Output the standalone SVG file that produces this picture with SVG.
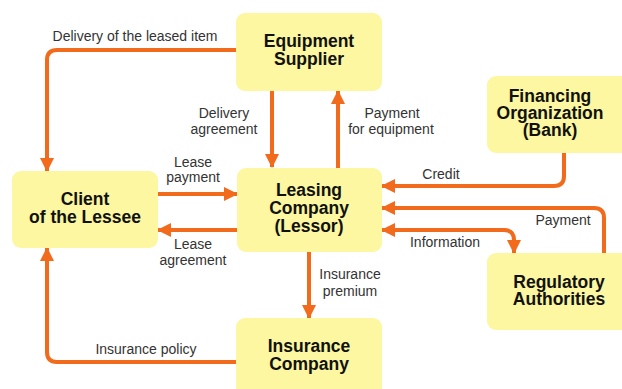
<svg xmlns="http://www.w3.org/2000/svg" width="622" height="389" viewBox="0 0 622 389">
<style>
.box{fill:#fcf7a0;}
.t{font-family:"Liberation Sans",Arial,sans-serif;font-weight:bold;font-size:17.5px;fill:#111;text-anchor:middle;}
.l{font-family:"Liberation Sans",Arial,sans-serif;font-size:14px;fill:#333;text-anchor:middle;}
.c{fill:none;stroke:#f26a1b;stroke-width:4;marker-end:url(#ah);}
</style>
<defs>
<marker id="ah" viewBox="0 0 14 14" refX="13" refY="7" markerWidth="14" markerHeight="14" markerUnits="userSpaceOnUse" orient="auto-start-reverse">
<path d="M0,0 L14,7 L0,14 Z" fill="#f26a1b"/>
</marker>
</defs>
<rect width="622" height="389" fill="#fff"/>
<g id="connectors">
<path class="c" d="M236,50 H57 Q47,50 47,60 V171"/>
<path class="c" d="M272,91 V167"/>
<path class="c" d="M338,168 V91"/>
<path class="c" d="M564,153 V176 Q564,186 554,186 H382"/>
<path class="c" d="M158,194 H237"/>
<path class="c" d="M237,230 H158"/>
<path class="c" d="M604,253 V218 Q604,208 594,208 H382"/>
<path class="c" d="M382,230 H504 Q514,230 514,240 V253" marker-start="url(#ah)"/>
<path class="c" d="M309,252 V318"/>
<path class="c" d="M236,362 H57 Q47,362 47,352 V248"/>
<text class="l" x="135" y="41">Delivery of the leased item</text>
<text class="l" x="224" y="118">Delivery</text>
<text class="l" x="224" y="134">agreement</text>
<text class="l" x="392" y="118">Payment</text>
<text class="l" x="391" y="134">for equipment</text>
<text class="l" x="441" y="179">Credit</text>
<text class="l" x="193" y="167">Lease</text>
<text class="l" x="193" y="182">payment</text>
<text class="l" x="193" y="249">Lease</text>
<text class="l" x="193" y="265">agreement</text>
<text class="l" x="563" y="225">Payment</text>
<text class="l" x="445" y="247">Information</text>
<text class="l" x="350" y="279">Insurance</text>
<text class="l" x="350" y="296">premium</text>
<text class="l" x="146" y="354">Insurance policy</text>
</g>
<g id="equipment-supplier">
<rect class="box" x="236" y="13" width="146" height="78" rx="9"/>
<text class="t" x="309" y="47">Equipment</text>
<text class="t" x="309" y="65">Supplier</text>
</g>
<g id="financing-organization">
<rect class="box" x="487" y="76" width="145" height="77" rx="9"/>
<text class="t" x="550" y="102">Financing</text>
<text class="t" x="550" y="119">Organization</text>
<text class="t" x="550" y="136">(Bank)</text>
</g>
<g id="client">
<rect class="box" x="12" y="171" width="146" height="77" rx="9"/>
<text class="t" x="85" y="205">Client</text>
<text class="t" x="85" y="223">of the Lessee</text>
</g>
<g id="leasing-company">
<rect class="box" x="237" y="168" width="145" height="84" rx="9"/>
<text class="t" x="309" y="196">Leasing</text>
<text class="t" x="309" y="214">Company</text>
<text class="t" x="309" y="232">(Lessor)</text>
</g>
<g id="insurance-company">
<rect class="box" x="236" y="318" width="146" height="85" rx="9"/>
<text class="t" x="309" y="352">Insurance</text>
<text class="t" x="309" y="370">Company</text>
</g>
<g id="regulatory-authorities">
<rect class="box" x="487" y="253" width="145" height="77" rx="9"/>
<text class="t" x="559" y="288">Regulatory</text>
<text class="t" x="559" y="305">Authorities</text>
</g>
</svg>
